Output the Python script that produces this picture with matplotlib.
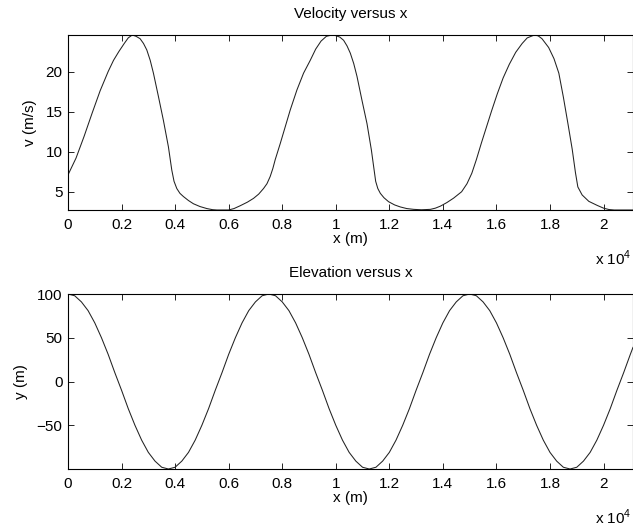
import numpy as np
import matplotlib
matplotlib.use('Agg')
import matplotlib.pyplot as plt

# 字体和数学文字
plt.rcParams['font.family'] = ['Liberation Sans', 'DejaVu Sans']
plt.rcParams['mathtext.fontset'] = 'custom'
plt.rcParams['mathtext.rm'] = 'Liberation Sans'
plt.rcParams['axes.unicode_minus'] = True

# velocity readings (x in m, v in m/s)
vel_x = [0, 300, 600, 900, 1200, 1500, 1700, 1900, 2100, 2250, 2400, 2540, 2692, 2820,
         2942, 3070, 3190, 3376, 3563, 3750, 3876, 3960, 4063, 4180, 4310, 4500, 4684,
         4930, 5185, 5400, 5560, 5993, 6200, 6430, 6700, 6928, 7120, 7302, 7430, 7551,
         7650, 7738, 7925, 8112, 8299, 8549, 8797, 9047, 9250, 9450, 9650, 9857, 9981,
         10150, 10293, 10420, 10542, 10670, 10792, 10979, 11166, 11330, 11420, 11490,
         11570, 11664, 11800, 11974, 12200, 12411, 12650, 12909, 13200, 13533, 13720,
         13907, 14150, 14400, 14700, 14900, 15080, 15250, 15440, 15630, 15820, 16030,
         16250, 16480, 16720, 16960, 17150, 17420, 17560, 17700, 17950, 18150, 18330,
         18500, 18670, 18830, 18950, 19040, 19200, 19450, 19760, 20000, 20200, 20400,
         21100]
vel_v = [7.1, 9.2, 11.9, 14.8, 17.6, 20.0, 21.4, 22.5, 23.5, 24.2, 24.56, 24.4, 24.1, 23.5,
         22.7, 21.4, 19.8, 16.9, 13.9, 10.6, 7.7, 6.3, 5.4, 4.8, 4.4, 3.9, 3.5,
         3.15, 2.9, 2.76, 2.72, 2.72, 2.9, 3.25, 3.7, 4.17, 4.7, 5.4, 6.0, 6.9,
         7.9, 9.0, 11.0, 13.1, 15.2, 17.7, 19.8, 21.4, 22.8, 23.8, 24.4, 24.56, 24.5,
         24.3, 23.9, 23.2, 22.3, 21.0, 19.4, 16.4, 13.5, 10.2, 8.0, 6.3,
         5.4, 4.8, 4.25, 3.75, 3.35, 3.1, 2.9, 2.8, 2.75, 2.8, 2.95,
         3.2, 3.65, 4.2, 5.0, 6.0, 7.3, 9.0, 11.1, 13.1, 15.1, 17.2,
         19.2, 20.9, 22.4, 23.5, 24.2, 24.56, 24.45, 24.1, 23.0, 21.6, 19.8,
         16.8, 13.5, 10.3, 7.4, 5.6, 4.6, 3.8, 3.3, 2.95, 2.78, 2.72,
         2.72]

# elevation readings, every 250 m
elev_x = list(range(0, 21001, 250)) + [21100]
elev_y = [100, 98, 91, 81, 67, 50, 31, 10, -10, -31, -50, -67, -81, -91, -98,
          -100, -98, -91, -81, -67, -50, -31, -10, 10, 31, 50, 67, 81, 91, 98,
          100, 98, 91, 81, 67, 50, 31, 10, -10, -31, -50, -67, -81, -91, -98,
          -100, -98, -91, -81, -67, -50, -31, -10, 10, 31, 50, 67, 81, 91, 98,
          100, 98, 91, 81, 67, 50, 31, 10, -10, -31, -50, -67, -81, -91, -98,
          -100, -98, -91, -81, -67, -50, -31, -10, 10, 31, 39]

xticks = [0, 2000, 4000, 6000, 8000, 10000, 12000, 14000, 16000, 18000, 20000]
xticklabels = ['0', '0.2', '0.4', '0.6', '0.8', '1', '1.2', '1.4', '1.6', '1.8', '2']

fig = plt.figure(figsize=(6.33, 5.26), dpi=100)
W, H = 633.0, 526.0
fs = 11

def style(ax):
    ax.tick_params(direction='in', top=True, right=True, length=4.5, width=0.6,
                   labelsize=fs)
    ax.tick_params(axis='x', pad=6)
    ax.tick_params(axis='y', pad=4)
    for s in ax.spines.values():
        s.set_linewidth(0.8)
    ax.set_xticks(xticks)
    ax.set_xticklabels(xticklabels)
    ax.set_xlim(0, 21100)

# 上图
ax1 = fig.add_axes([68 / W, 1 - 210 / H, 565 / W, 175 / H])
ax1.plot(vel_x, vel_v, color='#222222', linewidth=0.75)
style(ax1)
ax1.set_ylim(2.72, 24.56)
ax1.set_yticks([5, 10, 15, 20])
ax1.set_title('Velocity versus x', fontsize=fs, pad=12)
ax1.set_xlabel('x (m)', fontsize=fs, labelpad=0)
ax1.set_ylabel('v (m/s)', fontsize=fs, labelpad=6)
fig.text(632 / W, 1 - 258 / H, r'x 10$^{4}$', ha='right', va='center', fontsize=fs)

# 下图
ax2 = fig.add_axes([68 / W, 1 - 469 / H, 565 / W, 175 / H])
ax2.plot(elev_x, elev_y, color='#222222', linewidth=0.75)
style(ax2)
ax2.set_ylim(-100, 100)
ax2.set_yticks([-50, 0, 50, 100])
ax2.set_title('Elevation versus x', fontsize=fs, pad=12)
ax2.set_xlabel('x (m)', fontsize=fs, labelpad=0)
ax2.set_ylabel('y (m)', fontsize=fs, labelpad=6)
fig.text(632 / W, 1 - 517 / H, r'x 10$^{4}$', ha='right', va='center', fontsize=fs)

fig.savefig('out.png', dpi=100)
